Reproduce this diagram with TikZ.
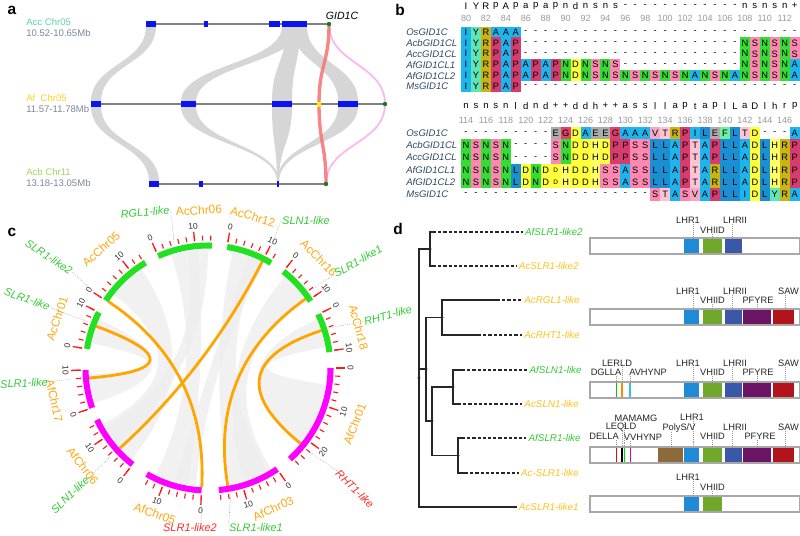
\documentclass[tikz,border=0pt]{standalone}
\usepackage{fontspec}
\setmainfont{Liberation Sans}
\usetikzlibrary{calc}

% panel a
\definecolor{accgreen}{HTML}{5FD3A8}
\definecolor{afgold}{HTML}{FFD21F}
\definecolor{acbgreen}{HTML}{A3D65C}
\definecolor{rangegray}{HTML}{7A8A9C}
\definecolor{chrgray}{HTML}{808080}
\definecolor{synblue}{HTML}{0A14F0}
\definecolor{syngray}{HTML}{D6D6D6}
\definecolor{dotgreen}{HTML}{1E7A1E}
\definecolor{gidred}{HTML}{F47A7A}
\definecolor{gidpink}{HTML}{FFB3F2}
% panel b
\definecolor{resA}{HTML}{1EB4EE}
\definecolor{resI}{HTML}{1EB4EE}
\definecolor{resL}{HTML}{1B8FD2}
\definecolor{resY}{HTML}{5EE6B4}
\definecolor{resF}{HTML}{6EF0A0}
\definecolor{resR}{HTML}{C8B414}
\definecolor{resP}{HTML}{D63C6E}
\definecolor{resG}{HTML}{E0406A}
\definecolor{resN}{HTML}{34DC34}
\definecolor{resS}{HTML}{FF88B2}
\definecolor{resD}{HTML}{FFFF3C}
\definecolor{resd}{HTML}{FFFF3C}
\definecolor{resH}{HTML}{FFFF64}
\definecolor{resE}{HTML}{ABABAB}
\definecolor{resT}{HTML}{FFC4D4}
\definecolor{resV}{HTML}{F4A8C4}
\definecolor{seqname}{HTML}{2E4A64}
\definecolor{posgray}{HTML}{9A9A9A}
% panel c
\definecolor{acchr}{HTML}{22E022}
\definecolor{afchr}{HTML}{FF00FF}
\definecolor{tickred}{HTML}{FF1A1A}
\definecolor{linkorange}{HTML}{FFA500}
\definecolor{chrlab}{HTML}{FFA812}
\definecolor{genegreen}{HTML}{33CC33}
\definecolor{genered}{HTML}{FF2A2A}
\definecolor{ribbon}{HTML}{EDEDED}
% panel d
\definecolor{afleaf}{HTML}{33CC33}
\definecolor{acleaf}{HTML}{FFC21F}
\definecolor{domLHRI}{HTML}{1F8AD8}
\definecolor{domVHIID}{HTML}{6FA82A}
\definecolor{domLHRII}{HTML}{3A57A8}
\definecolor{domPFYRE}{HTML}{6B1466}
\definecolor{domSAW}{HTML}{B3141C}
\definecolor{domPoly}{HTML}{8C6A3A}
\definecolor{boxgray}{HTML}{A8A8A8}

\newcommand\synband[6]{%
  \fill[synfill] (#1,#3) .. controls (#1,{(#3+#6)/2}) and (#4,{(#3+#6)/2}) .. (#4,#6)
    -- (#5,#6) .. controls (#5,{(#3+#6)/2}) and (#2,{(#3+#6)/2}) .. (#2,#3) -- cycle;}
\newcommand\alnrow[4]{% id, y, height, residues
  \foreach \rs [count=\k from 0] in {#4}{%
    \if-\rs
      \node[alntxt] (#1-\k) at ({466+9.96*\k},#2) {-};
    \else
      \fill[fill=res\rs] ({466+9.96*\k-4.98},{#2-#3/2}) rectangle ++(9.96,#3);
      \node[alntxt] (#1-\k) at ({466+9.96*\k},#2) {\if d\rs\fontsize{4.6}{5}\selectfont D\else\rs\fi};
    \fi}}
\newcommand\domlabels[3]{% box top, id, labels
  \foreach \lx/\ly/\txt/\px [count=\li] in {#3}{%
    \node[domlab] (#2-\li) at (\lx,\ly) {\txt};
    \draw[leader] (\px,\ly+3.8) -- (\px,#1);}}

\begin{document}
\begin{tikzpicture}[x=0.025cm, y=-0.025cm,
  every node/.style={inner sep=0pt, font=\fontsize{6.8}{8}\selectfont},
  panlab/.style={font=\fontsize{11}{12}\selectfont\bfseries},
  chrline/.style={draw=chrgray, line width=1.8pt},
  synfill/.style={fill=syngray},
  seqlab/.style={anchor=west, text=seqname, font=\fontsize{6.8}{8}\selectfont\itshape},
  alntxt/.style={font=\fontsize{6.6}{8}\selectfont},
  hdrtxt/.style={font=\fontsize{6.8}{8}\selectfont},
  postxt/.style={text=posgray, font=\fontsize{6.4}{8}\selectfont},
  chrarc/.style={line width=4.3pt},
  tickmin/.style={draw=tickred, line width=0.8pt},
  tickmaj/.style={draw=tickred, line width=0.9pt},
  numlab/.style={text=black!80, font=\fontsize{6}{7}\selectfont},
  chrname/.style={text=chrlab, font=\fontsize{8.4}{9}\selectfont},
  genelab/.style={font=\fontsize{7.8}{9}\selectfont\itshape, inner sep=0.8pt},
  leader/.style={draw=gray!80, line width=0.4pt, densely dotted},
  orlink/.style={draw=linkorange, line width=2pt},
  ribbonfill/.style={fill=ribbon, fill opacity=0.75},
  treeline/.style={draw=black!85, line width=0.9pt},
  treedash/.style={draw=black!85, line width=0.9pt, dash pattern=on 2.2pt off 1.5pt},
  leaflab/.style={anchor=east, font=\fontsize{7}{8}\selectfont\itshape, inner sep=1.5pt},
  boxline/.style={draw=boxgray, line width=0.9pt},
  domlab/.style={text=black!85, font=\fontsize{6.6}{8}\selectfont}]
\fill[white] (0,0) rectangle (800,535);
\useasboundingbox (0,0) rectangle (800,535);

%% ---------------- a: microsynteny
\node[panlab] (lbla) at (12,10) {a};
\node[anchor=west, text=accgreen] (accname) at (26,22) {Acc Chr05};
\node[anchor=west, text=rangegray] (accrange) at (26,33) {10.52-10.65Mb};
\node[anchor=west, text=afgold] (afname) at (26,98) {Af~~Chr05};
\node[anchor=west, text=rangegray] (afrange) at (26,109.5) {11.57-11.78Mb};
\node[anchor=west, text=acbgreen] (acbname) at (26,172.5) {Acb Chr11};
\node[anchor=west, text=rangegray] (acbrange) at (26,183.5) {13.18-13.05Mb};
\node[font=\fontsize{7.5}{9}\selectfont\itshape] (gid) at (342,16) {GID1C};

\synband{146}{156}{26}{91}{101}{102}
\synband{91}{101}{106}{149}{159}{182}
\synband{282}{300}{26}{181}{196}{102}
\synband{286}{300}{26}{272}{292}{102}
\synband{292}{307}{26}{338}{358}{102}
\synband{181}{196}{106}{277}{279}{182}
\synband{272}{292}{106}{277}{279}{182}
\synband{338}{358}{106}{277}{279}{182}

\coordinate (gidtop) at (329,24);
\coordinate (gidmid) at (319,104);
\coordinate (gidend) at (385,104);
\coordinate (gidbot) at (326,184);
\draw[gidpink, line width=1.2pt] (gidtop) .. controls (329,64) and (385,64) .. (gidend)
  .. controls (385,144) and (326,144) .. (gidbot);
\draw[gidred, line width=2.4pt, opacity=0.9] (gidtop) .. controls (329,64) and (319,64) .. (gidmid)
  .. controls (319,144) and (326,144) .. (gidbot);

\draw[chrline] (146,24) -- (330,24);
\draw[chrline] (91,104) -- (386,104);
\draw[chrline] (149,184) -- (327,184);
\foreach \xa/\xb/\yy in {146/156/24, 204/208/24, 269/280/24, 282/307/24,
    91/101/104, 181/196/104, 272/292/104, 338/358/104,
    149/159/184, 199/203/184, 277/279/184}
  \fill[synblue] (\xa,\yy-2.6) rectangle (\xb,\yy+2.6);
\fill[yellow] (317,101.5) rectangle (321,106.5);
\foreach \gp in {gidtop,gidend,gidbot}
  \fill[dotgreen] (\gp) circle (1.6pt);

%% ---------------- b: alignment
\node[panlab] (lblb) at (400,10) {b};
\foreach \rs [count=\k from 0] in {I,Y,R,p,A,p,a,p,a,p,n,d,n,s,n,s,-,-,-,-,-,-,-,-,-,-,-,-,n,s,n,s,n,+}
  \node[hdrtxt] (ha-\k) at ({466+9.96*\k},6) {\rs};
\foreach \n [count=\k from 0] in {80,82,...,112}
  \node[postxt] (pa-\k) at ({466+19.92*\k},18) {\n};
\foreach \nm [count=\k from 0] in {OsGID1C,AcbGID1CL,AccGID1CL,AfGID1CL1,AfGID1CL2,MsGID1C}
  \node[seqlab] (sa-\k) at (406,{32+10.9*\k}) {\nm};
\alnrow{ra1}{32}{10.9}{I,Y,R,A,A,A,-,-,-,-,-,-,-,-,-,-,-,-,-,-,-,-,-,-,-,-,-,-,-,-,-,-,-,-}
\alnrow{ra2}{42.9}{10.9}{I,Y,R,P,A,P,-,-,-,-,-,-,-,-,-,-,-,-,-,-,-,-,-,-,-,-,-,-,N,S,N,S,N,S}
\alnrow{ra3}{53.8}{10.9}{I,Y,R,P,A,P,-,-,-,-,-,-,-,-,-,-,-,-,-,-,-,-,-,-,-,-,-,-,N,S,N,S,N,S}
\alnrow{ra4}{64.7}{10.9}{I,Y,R,P,A,P,A,P,A,P,N,D,N,S,N,S,-,-,-,-,-,-,-,-,-,-,-,-,N,S,N,S,N,A}
\alnrow{ra5}{75.6}{10.9}{I,Y,R,P,A,P,A,P,A,P,N,D,N,S,N,S,N,S,N,S,N,S,N,A,N,S,N,A,N,S,N,S,N,A}
\alnrow{ra6}{86.5}{10.9}{I,Y,R,P,A,P,-,-,-,-,-,-,-,-,-,-,-,-,-,-,-,-,-,-,-,-,-,-,-,-,-,-,-,-}

\foreach \rs [count=\k from 0] in {n,s,n,s,n,l,d,n,d,+,+,d,d,h,+,+,a,s,s,l,l,a,p,t,a,p,l,L,a,D,l,h,r,p}
  \node[hdrtxt] (hb-\k) at ({466+9.96*\k},106) {\rs};
\foreach \n [count=\k from 0] in {114,116,...,146}
  \node[postxt] (pb-\k) at ({466+19.92*\k},120) {\n};
\foreach \nm [count=\k from 0] in {OsGID1C,AcbGID1CL,AccGID1CL,AfGID1CL1,AfGID1CL2,MsGID1C}
  \node[seqlab] (sb-\k) at (406,{133+12.3*\k}) {\nm};
\alnrow{rb1}{133}{12.3}{-,-,-,-,-,-,-,-,-,E,G,D,A,E,E,G,A,A,A,V,T,R,P,I,L,E,F,L,T,D,-,-,-,A}
\alnrow{rb2}{145.3}{12.3}{N,S,N,S,N,-,-,-,-,S,N,D,D,H,D,P,P,S,S,L,L,A,P,T,A,P,L,L,A,D,L,H,R,P}
\alnrow{rb3}{157.6}{12.3}{N,S,N,S,N,-,-,-,-,S,N,D,D,H,D,P,P,S,S,L,L,A,P,T,A,P,L,L,A,D,L,H,R,P}
\alnrow{rb4}{169.9}{12.3}{N,S,N,S,N,L,D,N,D,d,H,D,D,H,S,S,A,S,S,L,L,A,P,T,A,R,L,L,A,D,L,H,R,P}
\alnrow{rb5}{182.2}{12.3}{N,S,N,S,N,L,D,N,D,d,H,D,D,H,S,S,A,S,S,L,L,A,P,T,A,R,L,L,A,D,L,H,R,P}
\alnrow{rb6}{194.5}{12.3}{-,-,-,-,-,-,-,-,-,-,-,-,-,-,-,-,-,-,-,S,T,A,S,V,A,P,L,L,I,D,L,Y,R,A}

%% ---------------- c: circos
\node[panlab] (lblc) at (12,232) {c};
\begin{scope}[shift={(208,368)}, x=0.025cm, y=0.025cm]
  % collinear blocks
  \foreach \pa/\pb/\qa/\qb in {108/95/-100/-116, 78/64/-60/-80, 50/36/-58/-72, 24/10/-8/-40,
      168/156/-163/-177, 142/124/-130/-152, 100/90/-140/-150, 70/62/-96/-106}
    \fill[ribbonfill] (\pa:119) arc[start angle=\pa, end angle=\pb, radius=119]
      .. controls (\pb:40) and (\qa:40) .. (\qa:119) arc[start angle=\qa, end angle=\qb, radius=119]
      .. controls (\qb:40) and (\pa:40) .. cycle;
  % DELLA pairs
  \foreach \pa/\pb in {146.3/-93, 63/-137.7, 159.5/-175.2, 35.3/-80.5, 18.3/-39.2}
    \draw[orlink] (\pa:119.5) .. controls (\pa:40) and (\pb:40) .. (\pb:119.5);
  % chromosomes with ticks
  \foreach \st/\len/\tmax/\tmaj/\col [count=\ci] in {114/14.4/14/10/acchr, 81/12.2/12/10/acchr,
      52/10.5/10/10/acchr, 26/10.3/10/10/acchr, 0/26.7/26/20/afchr, -55.6/16.3/16/10/afchr,
      -93/15/14/10/afchr, -128/15/14/10/afchr, -161/10/10/10/afchr, 171/10/10/10/acchr,
      146.6/14.4/14/10/acchr}{
    \draw[chrarc, draw=\col] (\st:122.5) arc[start angle=\st, end angle={\st-1.8*\len}, radius=122.5];
    \foreach \t in {0,2,...,\tmax}
      \draw[tickmin] ({\st-1.8*\t}:127.5) -- ({\st-1.8*\t}:132.5);
    \foreach \t in {0,10,...,\tmaj}{
      \pgfmathsetmacro\ang{\st-1.8*\t}
      \pgfmathsetmacro\rot{\ang>=0 ? \ang-90 : \ang+90}
      \draw[tickmaj] (\ang:127.5) -- (\ang:137);
      \node[numlab, rotate=\rot] (tl\ci-\t) at (\ang:142.5) {\t};}
  }
  \foreach \ang/\rr/\nm in {93.3/158/AcChr06, 73.5/158/AcChr12, 44.7/156/AcChr16, 15.1/156/AcChr18,
      -20.9/157/AfChr01, -65.1/155/AfChr03, -110/155/AfChr05, -142/159/AfChr06,
      -168/157/AfChr17, 161.8/159/AcChr01, 131.9/160/AcChr05}{
    \pgfmathsetmacro\rot{\ang>=0 ? \ang-90 : \ang+90}
    \node[chrname, rotate=\rot] (cn-\nm) at (\ang:\rr) {\nm};}
\end{scope}
% gene labels
\node[genelab, text=genegreen, rotate=5] (gRGL) at (145,212) {RGL1-like};
\draw[leader] (gRGL.east) -- (174,243);
\node[genelab, text=genegreen] (gSLNa) at (306,221) {SLN1-like};
\draw[leader] (gSLNa.west) -- (269,253);
\node[genelab, text=genegreen, rotate=30] (gSLRa) at (358,261) {SLR1-like1};
\draw[leader] (gSLRa.west) -- (311,290);
\node[genelab, text=genegreen, rotate=15] (gRHTa) at (388,315) {RHT1-like};
\draw[leader] (gRHTa.west) -- (328,328);
\node[genelab, text=genegreen, rotate=-33] (gSLRb) at (49,257) {SLR1-like2};
\draw[leader] (gSLRb.east) -- (100,297);
\node[genelab, text=genegreen, rotate=-20] (gSLRc) at (27,299) {SLR1-like};
\draw[leader] (gSLRc.east) -- (88,322);
\node[genelab, text=genegreen, rotate=3] (gSLRd) at (24,383) {SLR1-like};
\draw[leader] (gSLRd.east) -- (72,379);
\node[genelab, text=genegreen, rotate=43] (gSLNb) at (70,495) {SLN1-like};
\draw[leader] (gSLNb.east) -- (110,457);
\node[genelab, text=genered] (gSLRe) at (190,528) {SLR1-like2};
\draw[leader] ($(gSLRe.north)+(11,0)$) -- (202,495);
\node[genelab, text=genegreen] (gSLRf) at (256,528) {SLR1-like1};
\draw[leader] ($(gSLRf.north west)+(1,0)$) -- (231,492);
\node[genelab, text=genered, rotate=-45] (gRHTb) at (355,489) {RHT1-like};
\draw[leader] (gRHTb.west) -- (307,450);

%% ---------------- d: tree and domains
\node[panlab] (lbld) at (398,229) {d};
\node[leaflab, text=afleaf] (lfA1) at (585,232) {AfSLR1-like2};
\node[leaflab, text=acleaf] (lfA2) at (581,266) {AcSLR1-like2};
\node[leaflab, text=acleaf] (lfB1) at (582,300) {AcRGL1-like};
\node[leaflab, text=acleaf] (lfB2) at (582,335) {AcRHT1-like};
\node[leaflab, text=afleaf] (lfC1) at (584,370) {AfSLN1-like};
\node[leaflab, text=acleaf] (lfC2) at (581,404) {AcSLN1-like};
\node[leaflab, text=afleaf] (lfD1) at (583,438) {AfSLR1-like};
\node[leaflab, text=acleaf] (lfD2) at (581,473) {Ac-SLR1-like};
\node[leaflab, text=acleaf] (lfE) at (581,507) {AcSLR1-like1};

\coordinate (sA1) at (433,232);
\coordinate (sA2) at (433,266);
\coordinate (sB1) at (497,300);
\coordinate (sB2) at (478,335);
\coordinate (sC1) at (462,370);
\coordinate (sC2) at (458,404);
\coordinate (sD1) at (462,438);
\coordinate (sD2) at (465,473);
\coordinate (nA) at (430,249);
\coordinate (nB) at (442,317.5);
\coordinate (nC) at (453,387);
\coordinate (nD) at (458,455.5);
\coordinate (nCD) at (432,421);
\coordinate (nBCD) at (426,369);
\coordinate (root) at (419,378);

\draw[treeline] (nA) |- (sA1);
\draw[treeline] (nA) |- (sA2);
\draw[treeline] (nB) |- (sB1);
\draw[treeline] (nB) |- (sB2);
\draw[treeline] (nC) |- (sC1);
\draw[treeline] (nC) |- (sC2);
\draw[treeline] (nD) |- (sD1);
\draw[treeline] (nD) |- (sD2);
\draw[treeline] (nCD) |- (nC);
\draw[treeline] (nCD) |- (nD);
\draw[treeline] (nBCD) |- (nB);
\draw[treeline] (nBCD) |- (nCD);
\draw[treeline] (root) |- (nA);
\draw[treeline] (root) |- (nBCD);
\draw[treeline] (root) |- (lfE.west);
\foreach \lf in {A1,A2,B1,B2,C1,C2,D1,D2}
  \draw[treedash] (s\lf) -- (lf\lf.west);
\foreach \nd in {nA,nB,nC,nD,nCD,nBCD,root}
  \fill[black!85] (\nd) circle (1.1pt);

% domain boxes
\foreach \bt in {238,309,382,447,496}{
  \fill[white] (590,\bt) rectangle (799.5,\bt+16);
  \fill[domLHRI] (684,\bt) rectangle (699,\bt+16);
  \fill[domVHIID] (703,\bt) rectangle (722,\bt+16);}
\foreach \bt in {238,309,382,447}
  \fill[domLHRII] (725,\bt) rectangle (742,\bt+16);
\foreach \bt in {309,382,447}{
  \fill[domPFYRE] (743,\bt) rectangle (771,\bt+16);
  \fill[domSAW] (773,\bt) rectangle (794,\bt+16);}
\fill[green!80!black] (615.5,382) rectangle (617,398);
\fill[orange!90!yellow] (621.3,382) rectangle (623,398);
\fill[cyan!80] (629.3,382) rectangle (631,398);
\fill[red] (615.5,447) rectangle (617,463);
\fill[black] (621.2,447) rectangle (623.4,463);
\fill[green!85!black] (623.9,447) rectangle (625.3,463);
\fill[magenta] (629.5,447) rectangle (631.2,463);
\fill[domPoly] (658,447) rectangle (683,463);
\foreach \bt in {238,309,382,447,496}
  \draw[boxline] (590,\bt) rectangle (799.5,\bt+16);

\domlabels{238}{dA}{688/220/LHR1/693, 712.5/230/VHIID/712.7, 735/220/LHRII/732.7}
\domlabels{309}{dB}{688/291/LHR1/693, 712.5/300/VHIID/712.7, 735/291/LHRII/732.7,
  758/300/PFYRE/757.3, 788.5/291/SAW/785.7}
\domlabels{382}{dC}{617/363/LERLD/622, 606/372/DGLLA/616.2, 648/372/AVHYNP/630,
  688/363/LHR1/693, 712.5/372/VHIID/712.7, 735/363/LHRII/732.7,
  758/372/PFYRE/757.3, 788.5/363/SAW/785.7}
\domlabels{447}{dD}{636/418/MAMAMG/624.5, 692/417/LHR1/693, 621/427/LEQLD/622.3,
  679/428/PolyS\slash V/671, 735/427/LHRII/732.7, 788.5/427/SAW/785.7,
  604/436/DELLA/616.2, 643/437/VVHYNP/630.2, 712.5/436/VHIID/712.7, 760/436/PFYRE/757.3}
\domlabels{496}{dE}{688/477/LHR1/693, 712.5/487/VHIID/712.7}
\end{tikzpicture}
\end{document}
